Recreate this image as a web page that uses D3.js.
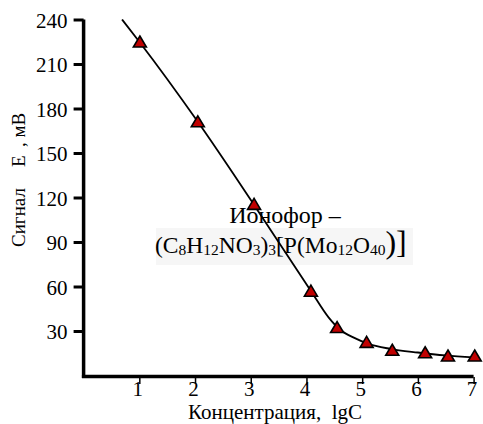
<!DOCTYPE html>
<html><head><meta charset="utf-8">
<script src="https://cdn.jsdelivr.net/npm/d3@7"></script>
<style>body{margin:0;background:#fff}svg{display:block}text{font-family:"Liberation Serif","Times New Roman",serif}</style>
</head><body><svg id="c" width="483" height="424"></svg>
<script>
const xTicks = [1,2,3,4,5,6,7];
const yTicks = [30,60,90,120,150,180,210,240];
const pointsX = [1.01,2.05,3.06,4.08,4.55,5.08,5.54,6.13,6.54,7.02];
const pointsY = [224.5,170.7,115,56.5,32,22,16.7,15,12.8,12.8];
const curveX = [0.69,1.0,2.05,3.06,4.08,4.4,4.6,4.85,5.1,5.5,6.0,6.5,7.0];
const curveY = [240,225,171,115,57,39,31,25.5,21.5,18,15.5,13.5,12.2];
const xLabel = "Концентрация,  lgC";
const yLabelParts = ["Сигнал", "E", ", мВ"];

const svg = d3.select("#c");
const x = d3.scaleLinear().domain([0,7]).range([83.6,473.6]);
const y = d3.scaleLinear().domain([0,240]).range([375.5,19.5]);

// annotation box
svg.append("rect").attr("x",156).attr("y",228).attr("width",257).attr("height",37).attr("fill","#f6f6f6");

// curve
svg.append("path")
  .datum(curveX.map((d,i)=>[d,curveY[i]]))
  .attr("fill","none").attr("stroke","#000").attr("stroke-width",1.8)
  .attr("d", d3.line().x(d=>x(d[0])).y(d=>y(d[1])).curve(d3.curveMonotoneX));

// text annotation
svg.append("text").attr("x",285).attr("y",223).attr("text-anchor","middle")
  .attr("font-size",24).text("Ионофор –");
const f = svg.append("text").attr("x",155).attr("y",253).attr("font-size",23.5);
const parts = [["(C",0],["8",1],["H",0],["12",1],["NO",0],["3",1],[")",0],["3",1],["[P(Mo",0],["12",1],["O",0],["40",1],[")]",2]];
parts.forEach((p,i)=>{
  const t = f.append("tspan").text(p[0]);
  if(p[1]===1){ t.attr("font-size",15.5).attr("dy",1.5); }
  else if(p[1]===2){ t.attr("font-size",32).attr("dy",-1.5); }
  else { t.attr("dy", i===0?0:-1.5); }
});

// triangles
const tri = "M0,-6.5L6.5,4.5L-6.5,4.5Z";
svg.selectAll(".pt").data(pointsX.map((d,i)=>[d,pointsY[i]])).join("path")
  .attr("class","pt").attr("d",tri)
  .attr("transform",d=>`translate(${x(d[0])},${y(d[1])})`)
  .attr("fill","#c00000").attr("stroke","#000").attr("stroke-width",1.6);

// axes
const gy = svg.append("g").attr("transform","translate(83.6,0)")
  .call(d3.axisLeft(y).tickValues(yTicks).tickFormat(d3.format("d")).tickSize(10).tickSizeOuter(0).tickPadding(6));
gy.attr("font-family",null).attr("font-size",null);
gy.select(".domain").remove();
gy.selectAll(".tick line").attr("stroke-width",3);
gy.selectAll(".tick text").attr("font-size",21).attr("fill","#000").attr("dy","0.36em");

const gx = svg.append("g").attr("transform","translate(0,377)")
  .call(d3.axisBottom(x).tickValues(xTicks).tickFormat(d3.format("d")).tickSize(7).tickSizeOuter(0));
gx.attr("font-family",null).attr("font-size",null);
gx.select(".domain").remove();
gx.selectAll(".tick line").attr("stroke-width",1.5);
gx.selectAll(".tick text").attr("font-size",21).attr("fill","#000").attr("y",4).attr("dx",-2);

svg.append("line").attr("x1",x(0)).attr("x2",x(0)).attr("y1",y(240)).attr("y2",378)
  .attr("stroke","#000").attr("stroke-width",3.5);
svg.append("line").attr("x1",x(0)-1.7).attr("x2",x(7)).attr("y1",376.5).attr("y2",376.5)
  .attr("stroke","#000").attr("stroke-width",3.5);

svg.append("text").attr("x",275).attr("y",419).attr("text-anchor","middle").attr("font-size",21)
  .attr("xml:space","preserve").style("white-space","pre").text(xLabel);
// y label pieces (rotated)
const yl = [[yLabelParts[0],247],[yLabelParts[1],167],[yLabelParts[2],147]];
yl.forEach(d=>{
  svg.append("text").attr("transform",`translate(25,${d[1]}) rotate(-90)`).attr("text-anchor","start")
    .attr("font-size",19).text(d[0]);
});
</script></body></html>
